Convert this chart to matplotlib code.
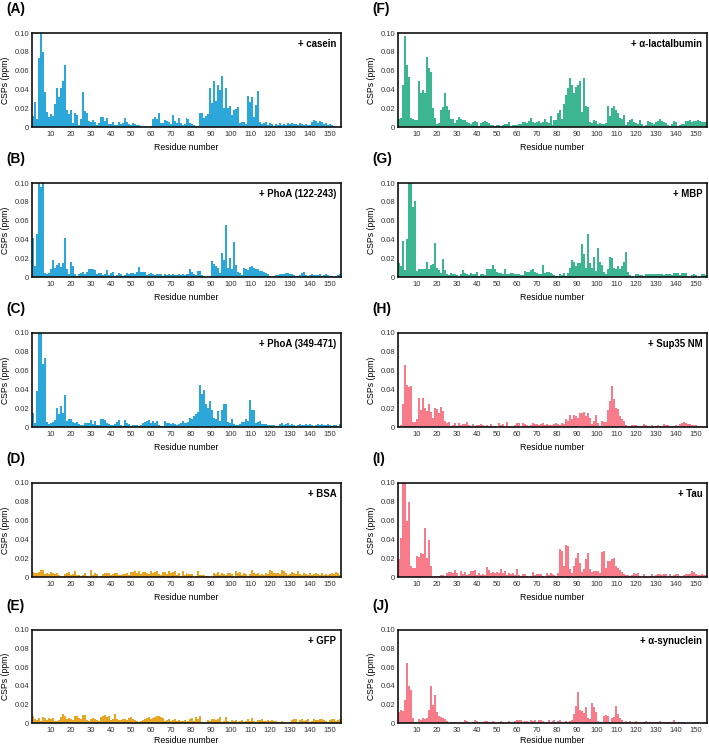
import numpy as np
import matplotlib
matplotlib.use('Agg')
import matplotlib.pyplot as plt
from matplotlib.ticker import FuncFormatter

# Residue numbers (one bar per residue)
residues = list(range(1, 156))

# CSP values (ppm) per residue
casein = [
    .012, .027, .008, .073, .100, .080, .037, .016, .011, .014,
    .012, .025, .041, .032, .042, .049, .066, .018, .014, .018,
    .004, .015, .013, .002, .009, .037, .017, .015, .006, .005,
    .007, .005, .002, .004, .011, .011, .006, .010, .003, .003,
    .005, .002, .002, .005, .003, .004, .010, .005, .003, .002,
    .004, .003, .002, .002, .001, .000, .001, .000, .000, .001,
    .009, .011, .008, .015, .004, .004, .007, .006, .005, .003,
    .013, .006, .004, .010, .004, .002, .003, .010, .008, .004,
    .003, .002, .001, .001, .015, .015, .010, .012, .014, .041,
    .026, .049, .028, .045, .039, .054, .020, .041, .020, .022,
    .013, .018, .019, .021, .004, .005, .005, .003, .033, .027,
    .032, .011, .023, .038, .005, .003, .004, .005, .002, .004,
    .003, .001, .003, .002, .004, .002, .003, .002, .004, .003,
    .004, .003, .003, .002, .004, .003, .002, .003, .002, .002,
    .005, .007, .006, .004, .006, .005, .003, .004, .002, .003,
    .002, .001, .001, .000, .000,
]
phoa_122 = [
    .042, .012, .046, .100, .096, .100, .004, .003, .004, .008,
    .018, .010, .013, .015, .011, .015, .042, .008, .003, .016,
    .012, .003, .001, .003, .004, .005, .003, .005, .009, .008,
    .008, .007, .003, .004, .004, .002, .003, .007, .002, .004,
    .005, .001, .002, .004, .003, .001, .002, .004, .003, .004,
    .004, .003, .005, .011, .005, .005, .005, .002, .003, .004,
    .003, .002, .003, .003, .003, .001, .003, .002, .003, .002,
    .003, .002, .002, .003, .002, .003, .002, .003, .003, .008,
    .005, .003, .002, .006, .006, .002, .001, .000, .000, .001,
    .017, .014, .012, .010, .004, .026, .018, .055, .010, .020,
    .009, .037, .013, .005, .004, .002, .010, .009, .007, .011,
    .012, .010, .008, .008, .006, .006, .005, .004, .003, .001,
    .000, .001, .002, .002, .003, .003, .003, .004, .004, .003,
    .003, .002, .001, .001, .002, .004, .005, .002, .001, .002,
    .003, .002, .002, .002, .003, .001, .002, .003, .002, .001,
    .001, .000, .001, .002, .003,
]
phoa_349 = [
    .015, .004, .038, .100, .100, .067, .073, .005, .003, .004,
    .005, .007, .020, .014, .022, .015, .034, .006, .009, .008,
    .005, .004, .005, .003, .002, .002, .004, .004, .004, .007,
    .003, .006, .002, .002, .009, .008, .007, .004, .003, .002,
    .002, .003, .005, .007, .002, .001, .007, .004, .003, .001,
    .002, .002, .002, .001, .002, .004, .005, .006, .007, .004,
    .006, .004, .006, .002, .001, .001, .006, .004, .004, .003,
    .004, .003, .002, .003, .004, .006, .004, .004, .005, .010,
    .008, .012, .014, .016, .045, .035, .039, .025, .020, .028,
    .018, .010, .008, .017, .006, .018, .024, .025, .005, .004,
    .008, .003, .002, .002, .003, .005, .005, .008, .006, .029,
    .018, .018, .004, .005, .006, .003, .003, .003, .002, .002,
    .002, .002, .001, .001, .003, .004, .002, .003, .004, .002,
    .003, .002, .001, .002, .003, .002, .002, .003, .002, .003,
    .002, .001, .002, .003, .002, .003, .002, .002, .003, .002,
    .001, .002, .002, .001, .003,
]
bsa = [
    .005, .004, .004, .005, .007, .007, .003, .004, .003, .005,
    .004, .003, .004, .002, .001, .001, .003, .004, .005, .002,
    .003, .006, .002, .002, .001, .002, .004, .001, .000, .007,
    .002, .004, .003, .000, .001, .003, .004, .004, .004, .002,
    .003, .004, .004, .002, .002, .003, .003, .004, .002, .005,
    .005, .006, .004, .006, .003, .005, .005, .004, .003, .006,
    .004, .005, .006, .003, .002, .005, .005, .003, .006, .004,
    .005, .006, .002, .004, .001, .006, .002, .004, .003, .003,
    .003, .000, .001, .006, .002, .002, .002, .001, .001, .000,
    .000, .004, .003, .005, .002, .004, .003, .002, .004, .004,
    .003, .000, .006, .004, .005, .002, .004, .003, .001, .003,
    .007, .004, .003, .004, .002, .003, .002, .004, .003, .007,
    .006, .004, .004, .004, .003, .007, .006, .004, .002, .003,
    .005, .004, .003, .006, .003, .002, .004, .003, .002, .004,
    .002, .003, .004, .003, .002, .004, .002, .003, .002, .003,
    .004, .003, .005, .004, .002,
]
gfp = [
    .007, .004, .003, .005, .002, .006, .005, .003, .005, .004,
    .005, .002, .002, .003, .006, .010, .007, .004, .005, .004,
    .003, .008, .007, .005, .004, .009, .009, .003, .002, .004,
    .005, .004, .003, .002, .006, .008, .009, .006, .008, .003,
    .004, .010, .004, .003, .003, .004, .004, .003, .005, .006,
    .004, .003, .002, .001, .002, .003, .004, .005, .006, .004,
    .005, .006, .008, .007, .006, .005, .002, .003, .004, .002,
    .003, .004, .002, .003, .002, .002, .003, .001, .002, .004,
    .005, .002, .006, .004, .008, .001, .000, .001, .003, .002,
    .004, .004, .003, .004, .006, .001, .002, .006, .002, .001,
    .003, .002, .003, .001, .002, .003, .001, .002, .004, .002,
    .005, .002, .001, .003, .003, .004, .002, .002, .003, .002,
    .003, .002, .002, .001, .001, .002, .001, .000, .000, .001,
    .003, .004, .004, .001, .003, .004, .002, .003, .004, .001,
    .002, .004, .003, .003, .004, .004, .003, .002, .001, .003,
    .004, .004, .002, .003, .004,
]
lactalbumin = [
    .009, .010, .045, .097, .066, .053, .010, .009, .007, .007,
    .049, .036, .039, .036, .075, .063, .058, .020, .010, .003,
    .004, .018, .021, .036, .022, .018, .009, .008, .004, .007,
    .011, .008, .007, .007, .005, .004, .003, .005, .006, .005,
    .001, .004, .005, .006, .005, .004, .002, .002, .001, .002,
    .002, .001, .002, .003, .003, .005, .000, .002, .002, .002,
    .003, .003, .005, .005, .004, .006, .010, .005, .004, .005,
    .006, .004, .005, .008, .005, .004, .012, .002, .007, .007,
    .015, .018, .009, .025, .034, .041, .052, .045, .036, .043,
    .045, .049, .016, .052, .022, .021, .005, .004, .007, .006,
    .003, .004, .003, .003, .004, .022, .012, .020, .022, .018,
    .015, .010, .008, .013, .002, .005, .007, .008, .005, .004,
    .003, .007, .003, .000, .002, .006, .005, .004, .003, .005,
    .006, .008, .006, .005, .004, .002, .001, .003, .006, .005,
    .001, .002, .003, .003, .006, .006, .007, .005, .006, .006,
    .007, .006, .005, .005, .005,
]
mbp = [
    .015, .012, .038, .007, .040, .100, .100, .074, .081, .006,
    .008, .008, .009, .008, .016, .008, .013, .014, .036, .010,
    .007, .004, .019, .007, .003, .002, .004, .003, .003, .002,
    .000, .003, .007, .004, .003, .002, .004, .003, .003, .005,
    .001, .003, .003, .002, .009, .009, .008, .013, .008, .005,
    .004, .004, .003, .009, .003, .003, .004, .004, .003, .003,
    .003, .002, .002, .006, .005, .005, .007, .009, .005, .004,
    .003, .003, .013, .004, .005, .005, .004, .003, .002, .001,
    .001, .003, .002, .004, .001, .004, .010, .018, .016, .012,
    .015, .015, .035, .025, .010, .046, .015, .010, .021, .006,
    .031, .016, .013, .005, .003, .008, .021, .020, .010, .009,
    .012, .008, .012, .016, .027, .005, .002, .000, .000, .003,
    .003, .002, .002, .001, .003, .003, .003, .003, .003, .003,
    .003, .003, .003, .002, .003, .003, .003, .002, .004, .004,
    .004, .002, .004, .004, .004, .001, .000, .002, .003, .002,
    .000, .000, .003, .003, .002,
]
sup35 = [
    .000, .002, .025, .066, .045, .043, .044, .005, .005, .008,
    .031, .018, .031, .020, .017, .025, .016, .010, .020, .019,
    .015, .021, .017, .006, .004, .005, .001, .002, .004, .001,
    .004, .002, .003, .003, .005, .002, .001, .003, .001, .002,
    .002, .003, .002, .001, .002, .001, .003, .001, .001, .000,
    .004, .002, .003, .001, .005, .001, .001, .001, .002, .004,
    .004, .000, .004, .003, .002, .001, .002, .004, .003, .003,
    .002, .003, .004, .002, .003, .002, .002, .002, .003, .004,
    .003, .002, .004, .003, .009, .006, .013, .009, .013, .012,
    .010, .015, .015, .016, .012, .015, .010, .003, .006, .013,
    .004, .001, .006, .005, .005, .018, .028, .044, .030, .020,
    .019, .012, .009, .006, .002, .001, .001, .002, .002, .002,
    .001, .001, .001, .003, .002, .001, .001, .002, .001, .001,
    .002, .001, .001, .003, .002, .002, .001, .001, .001, .002,
    .001, .003, .004, .005, .004, .003, .003, .002, .002, .002,
    .001, .001, .001, .001, .000,
]
tau = [
    .019, .042, .100, .100, .060, .080, .012, .010, .010, .022,
    .021, .026, .025, .052, .020, .039, .012, .000, .001, .001,
    .001, .002, .002, .001, .004, .005, .005, .004, .007, .004,
    .001, .006, .003, .005, .002, .003, .006, .006, .007, .002,
    .004, .002, .003, .002, .011, .007, .004, .005, .004, .005,
    .004, .009, .004, .006, .002, .004, .003, .004, .002, .008,
    .002, .001, .003, .003, .001, .000, .001, .005, .002, .003,
    .003, .003, .001, .000, .004, .002, .004, .003, .002, .001,
    .004, .030, .028, .012, .034, .033, .008, .004, .012, .020,
    .026, .015, .005, .008, .019, .026, .008, .005, .006, .006,
    .006, .004, .027, .028, .010, .017, .017, .019, .020, .012,
    .010, .007, .005, .003, .002, .002, .001, .002, .004, .003,
    .004, .001, .000, .003, .001, .000, .001, .003, .000, .002,
    .003, .003, .002, .003, .003, .000, .003, .001, .002, .003,
    .003, .001, .000, .002, .003, .003, .003, .006, .005, .003,
    .002, .002, .003, .002, .002,
]
synuclein = [
    .012, .014, .013, .025, .064, .040, .035, .005, .001, .001,
    .004, .003, .005, .004, .005, .014, .040, .019, .030, .012,
    .007, .006, .005, .004, .002, .000, .001, .001, .001, .000,
    .001, .001, .001, .003, .002, .001, .000, .001, .003, .002,
    .001, .000, .001, .002, .002, .001, .001, .002, .001, .000,
    .001, .002, .001, .000, .001, .002, .001, .000, .002, .003,
    .003, .003, .001, .002, .002, .001, .003, .002, .003, .001,
    .003, .003, .002, .001, .001, .003, .001, .002, .003, .001,
    .002, .003, .001, .001, .002, .001, .002, .003, .010, .018,
    .033, .014, .013, .011, .017, .005, .004, .022, .017, .012,
    .002, .001, .001, .008, .009, .007, .001, .005, .006, .018,
    .010, .005, .003, .001, .002, .001, .002, .001, .001, .002,
    .001, .001, .001, .001, .002, .001, .001, .001, .001, .001,
    .001, .002, .001, .001, .001, .001, .001, .001, .003, .001,
    .001, .001, .001, .001, .000, .000, .000, .000, .001, .001,
    .001, .000, .000, .001, .000,
]

# Panel order: left column A-E, right column F-J
panel_letters = ['A', 'B', 'C', 'D', 'E', 'F', 'G', 'H', 'I', 'J']
panel_names = ['+ casein', '+ PhoA (122-243)', '+ PhoA (349-471)', '+ BSA', '+ GFP',
               '+ α-lactalbumin', '+ MBP', '+ Sup35 NM', '+ Tau', '+ α-synuclein']
panel_data = [casein, phoa_122, phoa_349, bsa, gfp,
              lactalbumin, mbp, sup35, tau, synuclein]

blue = '#2ba7da'
green = '#3cb690'
yellow = '#e8a624'
pink = '#f77b89'
panel_colors = [blue, blue, blue, yellow, yellow, green, green, pink, pink, pink]


def main():
    plt.rcParams['font.family'] = ['Liberation Sans', 'DejaVu Sans']

    W, H = 709, 745
    fig = plt.figure(figsize=(W / 100, H / 100), dpi=100)

    # axes boxes in pixels
    col_left = [32, 398]
    ax_w = 309
    row_top = [33, 183, 333, 483, 630]
    ax_h = 94

    yfmt = FuncFormatter(lambda v, p: '0' if abs(v) < 1e-9 else f'{v:.2f}')

    for i, (letter, name, vals, color) in enumerate(
            zip(panel_letters, panel_names, panel_data, panel_colors)):
        col = i // 5
        row = i % 5
        left = col_left[col]
        top = row_top[row]
        h = ax_h - 1 if row == 4 else ax_h
        ax = fig.add_axes([left / W, 1 - (top + h) / H, ax_w / W, h / H])

        ax.bar(residues, vals, width=1.0, color=color, linewidth=0)
        ax.set_xlim(0.5, 155.5)
        ax.set_ylim(0, 0.10)
        ax.set_xticks(range(10, 151, 10))
        ax.set_yticks(np.arange(0, 0.101, 0.02))
        ax.yaxis.set_major_formatter(yfmt)
        ax.tick_params(axis='both', length=0, labelsize=5.5, colors='#333333')
        ax.tick_params(axis='x', pad=3)
        ax.tick_params(axis='y', pad=2)
        for s in ax.spines.values():
            s.set_linewidth(1.2)
            s.set_color('#111111')

        ax.set_ylabel('CSPs (ppm)', fontsize=6.2, labelpad=3)
        # the bottom row sits closer to the figure edge
        ax.set_xlabel('Residue number', fontsize=6.3,
                      labelpad=1 if row == 4 else 3.5)

        ax.text(0.985, 0.88, name, transform=ax.transAxes, ha='right', va='center',
                fontsize=6.9, fontweight='bold')

        # panel letter
        fig.text((left - 26) / W, 1 - (top - 24) / H, f'({letter})',
                 ha='left', va='center', fontsize=9.9, fontweight='bold')

    plt.savefig('out.png', dpi=100)


if __name__ == "__main__":
    main()
